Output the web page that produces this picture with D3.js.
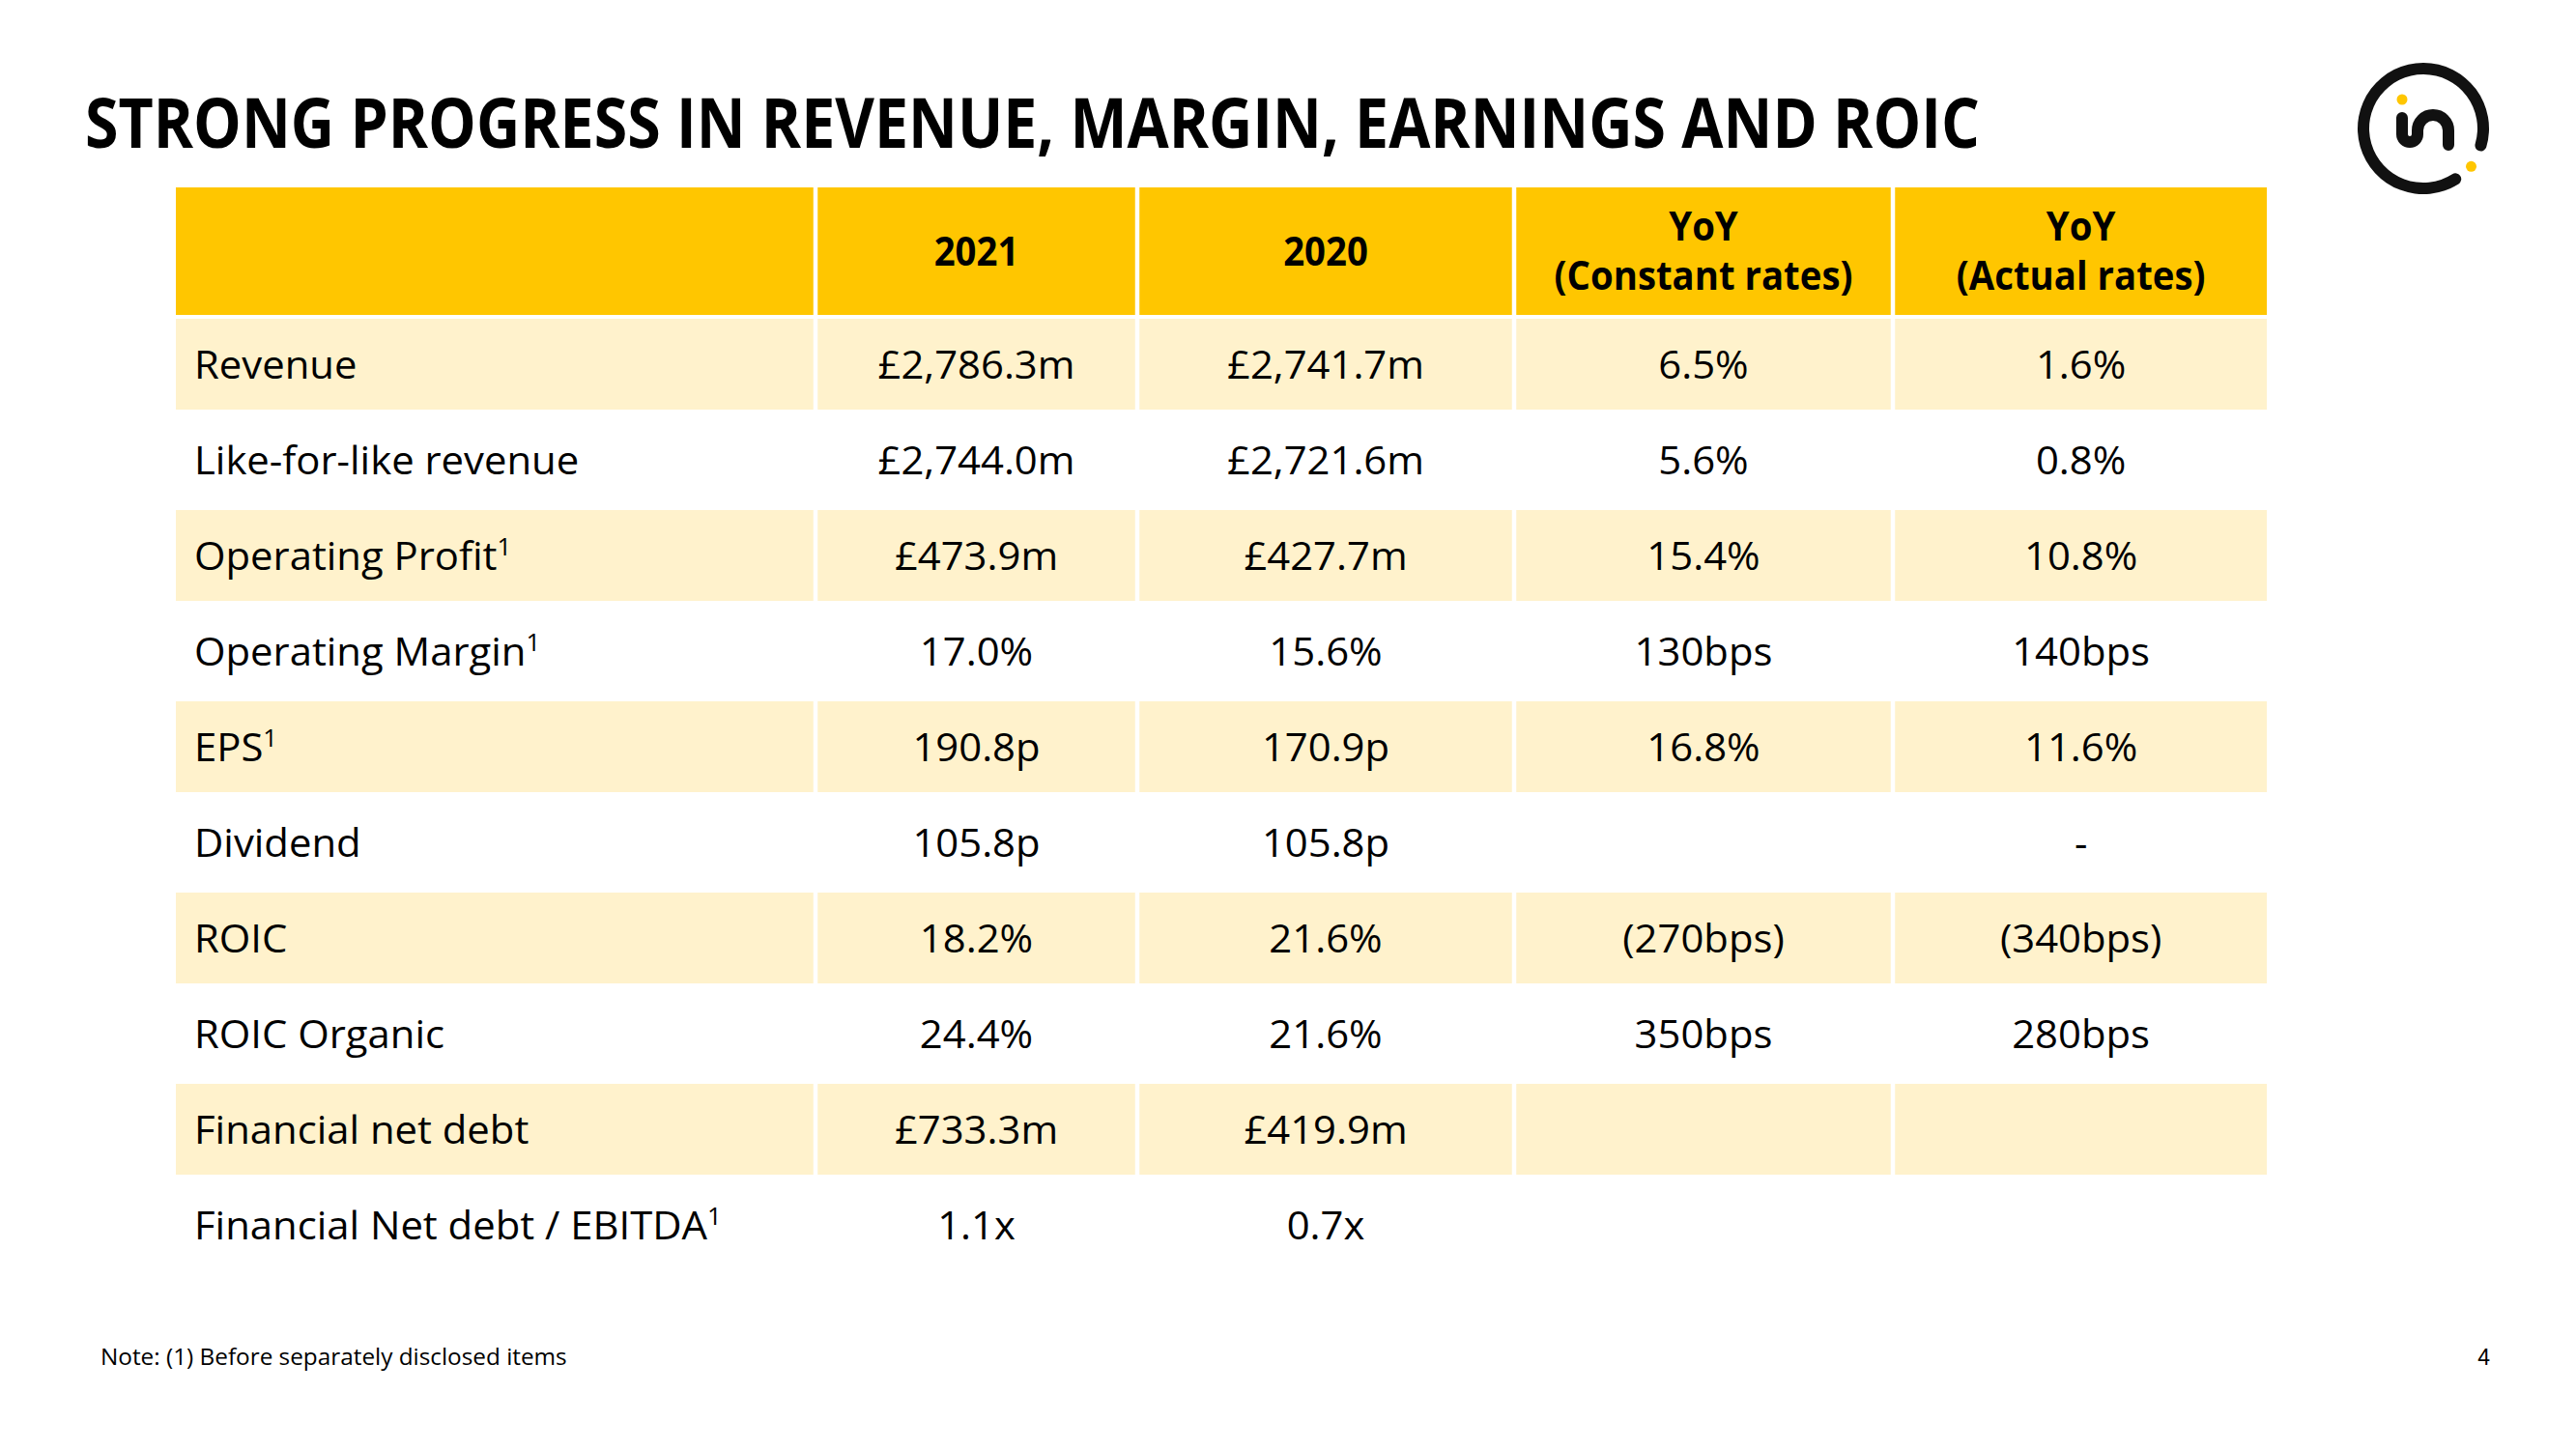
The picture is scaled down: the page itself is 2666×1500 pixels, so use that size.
<!DOCTYPE html>
<html><head><meta charset="utf-8">
<script src="https://cdn.jsdelivr.net/npm/d3@7"></script>
<style>html,body{margin:0;padding:0;background:#fff;overflow:hidden}</style>
</head><body>
<svg id="chart" width="2666" height="1500" xmlns="http://www.w3.org/2000/svg"></svg>
<script>
// ---------- DATA ----------
const titleText = "STRONG PROGRESS IN REVENUE, MARGIN, EARNINGS AND ROIC";
const columnHeaders = [[""], ["2021"], ["2020"], ["YoY", "(Constant rates)"], ["YoY", "(Actual rates)"]];
const rowLabels = ["Revenue", "Like-for-like revenue", "Operating Profit", "Operating Margin", "EPS",
                   "Dividend", "ROIC", "ROIC Organic", "Financial net debt", "Financial Net debt / EBITDA"];
const footnoteMarks = [false, false, true, true, true, false, false, false, false, true];
const values2021 = ["£2,786.3m", "£2,744.0m", "£473.9m", "17.0%", "190.8p", "105.8p", "18.2%", "24.4%", "£733.3m", "1.1x"];
const values2020 = ["£2,741.7m", "£2,721.6m", "£427.7m", "15.6%", "170.9p", "105.8p", "21.6%", "21.6%", "£419.9m", "0.7x"];
const yoyConstant = ["6.5%", "5.6%", "15.4%", "130bps", "16.8%", "", "(270bps)", "350bps", "", ""];
const yoyActual = ["1.6%", "0.8%", "10.8%", "140bps", "11.6%", "-", "(340bps)", "280bps", "", ""];
const noteText = "Note: (1) Before separately disclosed items";
const pageNumber = "4";

// ---------- LAYOUT ----------
const FONT = "'Open Sans', 'Noto Sans', sans-serif";
const W = 2666, H = 1500;
const HEADER_FILL = "#FFC600", BAND_FILL = "#FFF2CC";
const colEdges = [182, 844, 1177, 1567, 1959, 2346];
const GAP = 4.5;
const headerTop = 194, headerBottom = 326;
const tableRowsTop = 330, tableRowsBottom = 1315;

const svg = d3.select("#chart");
svg.append("rect").attr("width", W).attr("height", H).attr("fill", "#fff");

const cols = d3.range(5).map(i => ({
  x0: colEdges[i] + (i > 0 ? GAP / 2 : 0),
  x1: colEdges[i + 1] - (i < 4 ? GAP / 2 : 0)
}));

const y = d3.scaleBand().domain(d3.range(rowLabels.length))
  .range([tableRowsTop, tableRowsBottom]).paddingInner(0.05).paddingOuter(0);

// measure horizontal condense factor
function factor(str, size, weight, target) {
  const t = svg.append("text").attr("font-family", FONT).attr("font-size", size)
    .attr("font-weight", weight).text(str);
  const w = t.node().getComputedTextLength();
  t.remove();
  return target / w;
}

const BODY_SIZE = 41, HEAD_SIZE = 41, TITLE_SIZE = 72, NOTE_SIZE = 23.5;
const kBody = factor("£2,786.3m", BODY_SIZE, 400, 204);
const kHead = factor("(Constant rates)", HEAD_SIZE, 700, 309);
const kTitle = factor(titleText, TITLE_SIZE, 700, 1961);
const kNote = factor(noteText, NOTE_SIZE, 400, 483);

function addText(parent, x, yy, str, o) {
  const g = parent.append("g").attr("transform", `translate(${x},${yy}) scale(${o.k},1)`);
  const t = g.append("text").attr("font-family", o.family || FONT).attr("font-size", o.size)
    .attr("font-weight", o.weight || 400).attr("fill", o.fill || "#000")
    .attr("text-anchor", o.anchor || "start");
  t.append("tspan").text(str);
  if (o.sup) {
    t.append("tspan").attr("font-size", o.size * 0.62).attr("dy", -o.size * 0.36).text("1");
  }
  return t;
}

// ---------- TITLE ----------
addText(svg, 88, 153, titleText, { k: kTitle, size: TITLE_SIZE, weight: 700 });

// ---------- HEADER ----------
const head = svg.append("g");
head.selectAll("rect").data(cols).join("rect")
  .attr("x", d => d.x0).attr("y", headerTop)
  .attr("width", d => d.x1 - d.x0).attr("height", headerBottom - headerTop)
  .attr("fill", HEADER_FILL);

const headCap = HEAD_SIZE * 0.714;
const headCenter = (headerTop + headerBottom) / 2;
columnHeaders.forEach((lines, i) => {
  const cx = (cols[i].x0 + cols[i].x1) / 2;
  const lh = 51;
  lines.forEach((ln, j) => {
    if (!ln) return;
    const cy = headCenter + (j - (lines.length - 1) / 2) * lh;
    addText(head, cx, cy + headCap / 2, ln, { k: kHead, size: HEAD_SIZE, weight: 700, anchor: "middle" });
  });
});

// ---------- BODY ----------
const body = svg.append("g");
const rows = rowLabels.map((lab, i) => ({
  i, cells: [lab, values2021[i], values2020[i], yoyConstant[i], yoyActual[i]], sup: footnoteMarks[i]
}));

const rowG = body.selectAll("g.row").data(rows).join("g").attr("class", "row");
rowG.each(function (r) {
  const g = d3.select(this);
  const top = y(r.i), bh = y.bandwidth();
  if (r.i % 2 === 0) {
    g.selectAll("rect").data(cols).join("rect")
      .attr("x", d => d.x0).attr("y", top)
      .attr("width", d => d.x1 - d.x0).attr("height", bh)
      .attr("fill", BAND_FILL);
  }
  const base = top + bh / 2 + BODY_SIZE * 0.714 / 2;
  r.cells.forEach((txt, c) => {
    if (!txt) return;
    if (c === 0) {
      addText(g, 201, base, txt, { k: kBody, size: BODY_SIZE, sup: r.sup });
    } else {
      addText(g, (cols[c].x0 + cols[c].x1) / 2, base, txt, { k: kBody, size: BODY_SIZE, anchor: "middle" });
    }
  });
});

// ---------- FOOTER ----------
addText(svg, 104, 1413, noteText, { k: kNote, size: NOTE_SIZE });
addText(svg, 2577, 1413, pageNumber, { k: 1, size: 23, family: "'Liberation Sans', Arial, sans-serif", anchor: "end" });

// ---------- LOGO ----------
const logo = svg.append("g").attr("transform", "translate(2508,133)");
const deg = Math.PI / 180;
logo.append("path")
  .attr("d", d3.arc().innerRadius(56).outerRadius(68).cornerRadius(6)
    .startAngle((52 + 90) * deg).endAngle((22 + 90 + 360) * deg)())
  .attr("fill", "#111");
logo.append("path")
  .attr("d", "M -22 -11 L -22 6 A 8 8 0 0 0 -6 6 L -6 2 A 16 16 0 0 1 26 2 L 26 17")
  .attr("fill", "none").attr("stroke", "#111").attr("stroke-width", 12)
  .attr("stroke-linecap", "round").attr("stroke-linejoin", "round");
logo.append("circle").attr("cx", -22).attr("cy", -30).attr("r", 5.5).attr("fill", "#FFC600");
logo.append("circle").attr("cx", 62 * Math.cos(37 * deg)).attr("cy", 62 * Math.sin(37 * deg) + 2)
  .attr("r", 5.5).attr("fill", "#FFC600");
</script>
</body></html>
